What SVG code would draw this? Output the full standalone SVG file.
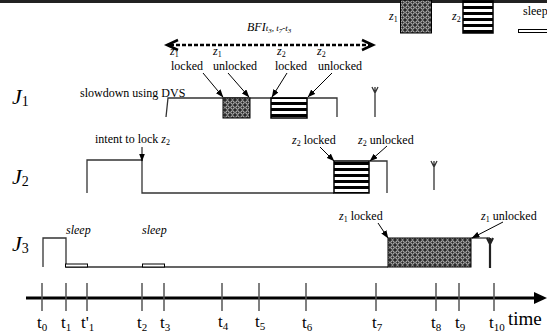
<svg xmlns="http://www.w3.org/2000/svg" width="547" height="332" viewBox="0 0 547 332">
<style>
.t{font-family:"Liberation Serif","Times New Roman",serif;font-size:12px;fill:#000}
.i{font-style:italic}
.J{font-family:"Liberation Serif","Times New Roman",serif;font-size:22px;font-style:italic;fill:#000}
.job{fill:none;stroke:#333;stroke-width:1.3}
.ann{fill:none;stroke:#000;stroke-width:1;marker-end:url(#ah)}
.tick{stroke:#555;stroke-width:1.5}
.lbl{font-family:"Liberation Serif","Times New Roman",serif;font-size:17px}
.hatch{fill:url(#hatch);stroke:#000;stroke-width:1}
.stripe{fill:url(#stripes);stroke:#000;stroke-width:1.5}
.sleep{fill:#fff;stroke:#000;stroke-width:1}
</style>
<defs>
<pattern id="hatch" width="5" height="5" patternUnits="userSpaceOnUse">
<rect width="5" height="5" fill="#2a2a2a"/>
<circle cx="2.5" cy="2.5" r="1.7" fill="none" stroke="#e0e0e0" stroke-width="0.9"/>
</pattern>
<pattern id="stripes" width="8" height="6" patternUnits="userSpaceOnUse">
<rect width="8" height="6" fill="#fff"/>
<rect width="8" height="3" fill="#000"/>
</pattern>
<marker id="ah" markerWidth="8" markerHeight="6" refX="7.5" refY="3" orient="auto" markerUnits="userSpaceOnUse">
<path d="M0,0 L8,3 L0,6 z" fill="#000"/>
</marker>
</defs>
<rect x="0" y="0" width="547" height="3" fill="#222"/>

<g id="legend">
<text class="t i" x="389" y="20">z<tspan style="font-size:8px;font-style:normal" dy="2">1</tspan></text>
<rect class="hatch" x="400.5" y="0" width="31" height="33"/>
<text class="t i" x="452" y="20">z<tspan style="font-size:8px;font-style:normal" dy="2">2</tspan></text>
<rect class="stripe" x="463" y="1" width="30" height="32"/>
<text class="t" x="523" y="15">sleep</text>
<rect class="sleep" x="518.5" y="29.5" width="30" height="3"/>
</g>

<g id="bfi">
<text class="t i" x="247" y="31">BFI<tspan style="font-size:9px">t<tspan style="font-size:7px" dy="2">3</tspan><tspan dy="-2">, t</tspan><tspan style="font-size:7px" dy="2">7</tspan><tspan dy="-2">-t</tspan><tspan style="font-size:7px" dy="2">3</tspan></tspan></text>
<line x1="170" y1="45" x2="370" y2="45" stroke="#000" stroke-width="2.5" stroke-dasharray="4,2"/>
<path d="M178,40 L167,45 L178,50" fill="none" stroke="#000" stroke-width="2.5"/>
<path d="M362,40 L373,45 L362,50" fill="none" stroke="#000" stroke-width="2.5"/>
</g>

<g id="J1">
<text class="J" x="12" y="104">J<tspan style="font-size:14px;font-style:normal" dy="2">1</tspan></text>
<text class="t" x="80" y="97">slowdown using DVS</text>
<path class="job" d="M166,117 L168,98 L337,98 L337,117"/>
<rect class="hatch" x="223" y="98" width="27" height="20"/>
<rect class="stripe" x="271" y="98" width="36" height="20"/>
<path class="job" d="M372,87 L375,93 L378,87 M375,87 L375,117"/>
<text class="t i" x="170" y="55">z<tspan style="font-size:8px;font-style:normal" dy="2">1</tspan></text>
<text class="t" x="171" y="70">locked</text>
<text class="t i" x="213" y="55">z<tspan style="font-size:8px;font-style:normal" dy="2">1</tspan></text>
<text class="t" x="213" y="70">unlocked</text>
<text class="t i" x="277" y="55">z<tspan style="font-size:8px;font-style:normal" dy="2">2</tspan></text>
<text class="t" x="275" y="70">locked</text>
<text class="t i" x="317" y="55">z<tspan style="font-size:8px;font-style:normal" dy="2">2</tspan></text>
<text class="t" x="318" y="70">unlocked</text>
</g>

<g id="J2">
<text class="J" x="12" y="184">J<tspan style="font-size:14px;font-style:normal" dy="2">2</tspan></text>
<text class="t" x="95" y="143">intent to lock <tspan class="i">z</tspan><tspan style="font-size:8px" dy="2">2</tspan></text>
<path class="job" d="M87,193 L87,160 L142,160 L142,193 L334,193"/>
<rect class="stripe" x="334" y="161" width="35" height="32"/>
<path class="job" d="M369,161 L387,161 L387,193"/>
<path class="job" d="M431,161 L434,167 L437,161 M434,161 L434,190"/>
<text class="t" x="292" y="144"><tspan class="i">z</tspan><tspan style="font-size:8px" dy="2">2</tspan><tspan dy="-2"> locked</tspan></text>
<text class="t" x="358" y="144"><tspan class="i">z</tspan><tspan style="font-size:8px" dy="2">2</tspan><tspan dy="-2"> unlocked</tspan></text>
</g>

<g id="J3">
<text class="J" x="12" y="251">J<tspan style="font-size:14px;font-style:normal" dy="2">3</tspan></text>
<path class="job" d="M43,267 L43,238 L66,238 L66,267 L388,267"/>
<text class="t i" x="66" y="234">sleep</text>
<text class="t i" x="142" y="234">sleep</text>
<rect class="sleep" x="65.5" y="264" width="22" height="3"/>
<rect class="sleep" x="142.5" y="264" width="22" height="3"/>
<rect class="hatch" x="388" y="238" width="83" height="29"/>
<path class="job" d="M471,238 L490,238"/>
<path d="M487,238 L490,244 L493,238 M490,238 L490,268" fill="none" stroke="#222" stroke-width="2.2"/>
<text class="t" x="339" y="220"><tspan class="i">z</tspan><tspan style="font-size:8px" dy="2">1</tspan><tspan dy="-2"> locked</tspan></text>
<text class="t" x="481" y="220"><tspan class="i">z</tspan><tspan style="font-size:8px" dy="2">1</tspan><tspan dy="-2"> unlocked</tspan></text>
</g>

<g id="connectors">
<line class="ann" x1="203" y1="73" x2="223" y2="97"/>
<line class="ann" x1="228" y1="73" x2="249" y2="97"/>
<line class="ann" x1="287" y1="73" x2="272" y2="97"/>
<line class="ann" x1="332" y1="73" x2="308" y2="97"/>
<line class="ann" x1="142" y1="147" x2="142" y2="161"/>
<line class="ann" x1="320" y1="147" x2="334" y2="161"/>
<line class="ann" x1="387" y1="146" x2="370" y2="161"/>
<line class="ann" x1="378" y1="223" x2="388" y2="238"/>
<line class="ann" x1="503" y1="222" x2="472" y2="238"/>
</g>

<g id="axis">
<line x1="26" y1="298" x2="537" y2="298" stroke="#000" stroke-width="3"/>
<path d="M534,292 L547,298 L534,304 z" fill="#000"/>
<line class="tick" x1="42" y1="283" x2="42" y2="311"/>
<line class="tick" x1="66" y1="283" x2="66" y2="311"/>
<line class="tick" x1="87" y1="283" x2="87" y2="311"/>
<line class="tick" x1="142" y1="283" x2="142" y2="311"/>
<line class="tick" x1="164" y1="283" x2="164" y2="311"/>
<line class="tick" x1="222" y1="283" x2="222" y2="311"/>
<line class="tick" x1="259" y1="283" x2="259" y2="311"/>
<line class="tick" x1="306" y1="283" x2="306" y2="311"/>
<line class="tick" x1="376" y1="283" x2="376" y2="311"/>
<line class="tick" x1="436" y1="283" x2="436" y2="311"/>
<line class="tick" x1="459" y1="283" x2="459" y2="311"/>
<line class="tick" x1="494" y1="283" x2="494" y2="311"/>
<text class="lbl" x="37" y="328">t<tspan style="font-size:11px" dy="3">0</tspan></text>
<text class="lbl" x="61" y="328">t<tspan style="font-size:11px" dy="3">1</tspan></text>
<text class="lbl" x="81" y="328">t'<tspan style="font-size:11px" dy="3">1</tspan></text>
<text class="lbl" x="137" y="328">t<tspan style="font-size:11px" dy="3">2</tspan></text>
<text class="lbl" x="160" y="328">t<tspan style="font-size:11px" dy="3">3</tspan></text>
<text class="lbl" x="218" y="327">t<tspan style="font-size:11px" dy="3">4</tspan></text>
<text class="lbl" x="255" y="327">t<tspan style="font-size:11px" dy="3">5</tspan></text>
<text class="lbl" x="302" y="328">t<tspan style="font-size:11px" dy="3">6</tspan></text>
<text class="lbl" x="372" y="328">t<tspan style="font-size:11px" dy="3">7</tspan></text>
<text class="lbl" x="431" y="328">t<tspan style="font-size:11px" dy="3">8</tspan></text>
<text class="lbl" x="455" y="328">t<tspan style="font-size:11px" dy="3">9</tspan></text>
<text class="lbl" x="489" y="328">t<tspan style="font-size:11px" dy="3">10</tspan></text>
<text class="lbl" x="508" y="325" style="font-size:19px">time</text>
</g>
</svg>
